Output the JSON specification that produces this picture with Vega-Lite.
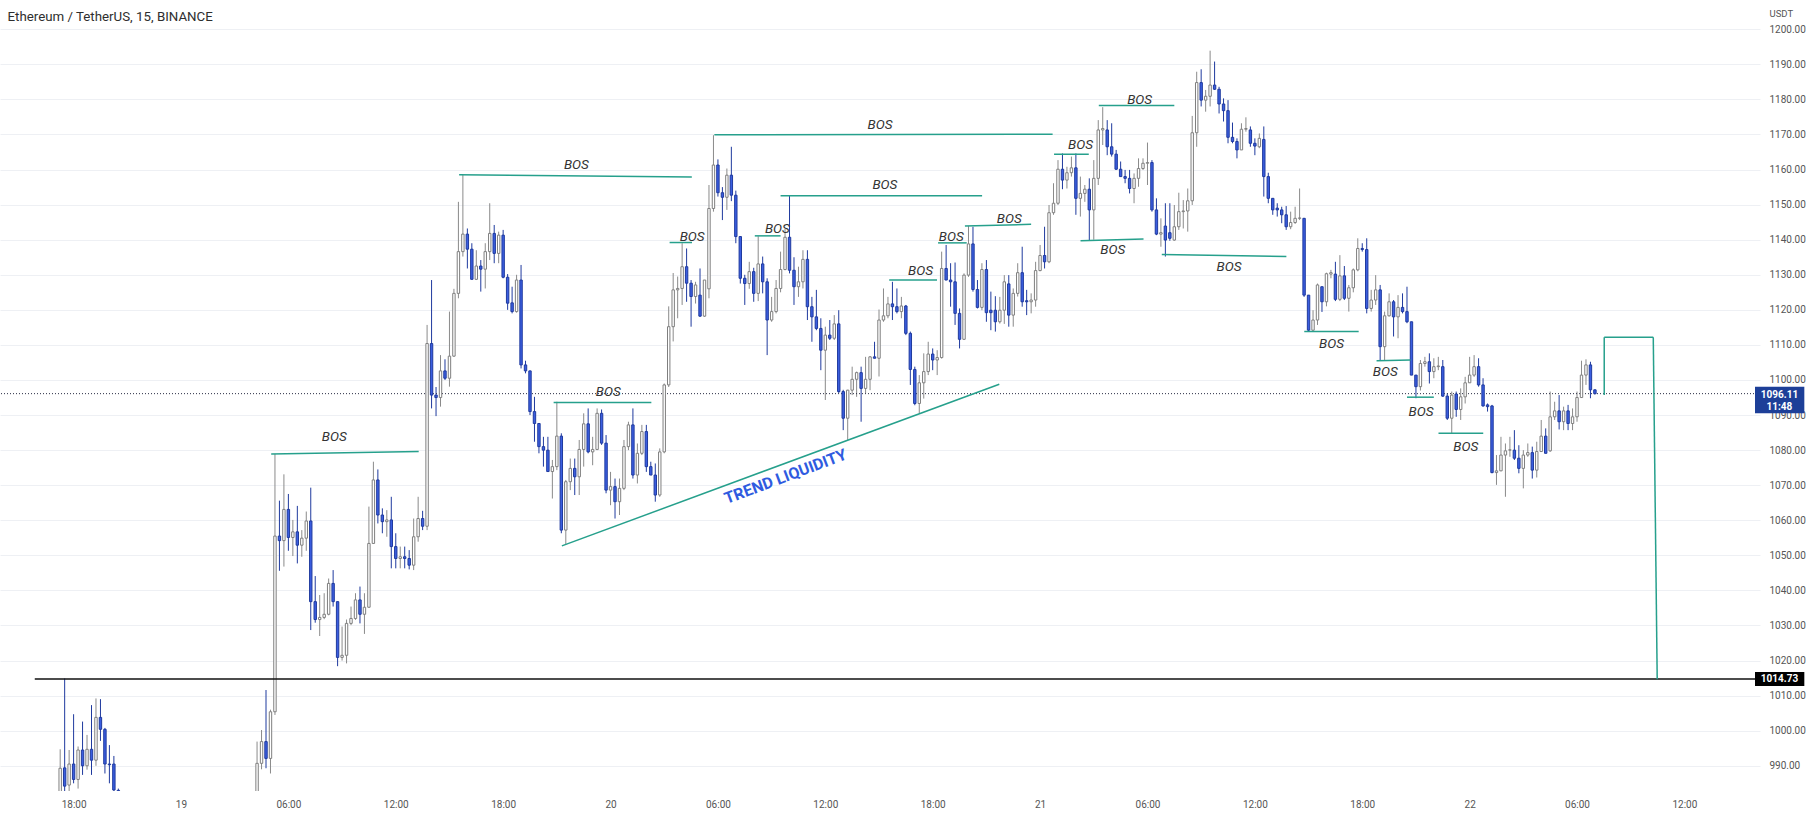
{
"$schema":"https://vega.github.io/schema/vega-lite/v6.json",
"width":1760,"height":791,
"autosize":{"type":"none"},
"padding":{"left":0,"top":0,"right":54,"bottom":27},
"background":"white",
"config":{"view":{"stroke":null},"font":"Roboto"},
"title":{"text":"Ethereum / TetherUS, 15, BINANCE","anchor":"start","offset":-23,"dx":8,"font":"Roboto","fontSize":13.3,"fontWeight":"normal","color":"#2e2e2e"},
"datasets":{
"candles":[
{"t":17.25,"o":980,"h":994.7,"l":975,"c":989.3},
{"t":17.5,"o":989.4,"h":1014.9,"l":980,"c":984.2},
{"t":17.75,"o":984.5,"h":994.5,"l":982,"c":990.5},
{"t":18,"o":990.5,"h":1004.7,"l":985,"c":986.1},
{"t":18.25,"o":986.1,"h":995.5,"l":983.5,"c":994.5},
{"t":18.5,"o":994.5,"h":1002.6,"l":987.4,"c":990},
{"t":18.75,"o":990,"h":998.8,"l":988.9,"c":994.7},
{"t":19,"o":994.7,"h":1007.3,"l":987.4,"c":991.6},
{"t":19.25,"o":991.6,"h":1009.2,"l":990,"c":1003.8},
{"t":19.5,"o":1003.8,"h":1009,"l":997.1,"c":1000.4},
{"t":19.75,"o":1000.4,"h":1000.8,"l":987.8,"c":990.5},
{"t":20,"o":990.5,"h":995.9,"l":985,"c":990.3},
{"t":20.25,"o":990.5,"h":992.8,"l":978,"c":983.1},
{"t":20.5,"o":983,"h":983.5,"l":975,"c":982},
{"t":28.25,"o":980,"h":996.9,"l":978,"c":990.7},
{"t":28.5,"o":990.7,"h":1000.2,"l":989,"c":996.9},
{"t":28.75,"o":996.9,"h":1011.6,"l":989.3,"c":992.1},
{"t":29,"o":992.1,"h":1006,"l":987.8,"c":1005.4},
{"t":29.25,"o":1005.4,"h":1078.9,"l":1004.5,"c":1055.5},
{"t":29.5,"o":1055.5,"h":1065.6,"l":1045.6,"c":1054.2},
{"t":29.75,"o":1054.2,"h":1073.1,"l":1046.8,"c":1063.1},
{"t":30,"o":1063.1,"h":1067.5,"l":1051.3,"c":1055.1},
{"t":30.25,"o":1055.1,"h":1060.1,"l":1049.8,"c":1056.7},
{"t":30.5,"o":1056.7,"h":1064.1,"l":1047.7,"c":1052.9},
{"t":30.75,"o":1052.9,"h":1057.2,"l":1049.6,"c":1054.9},
{"t":31,"o":1054.9,"h":1062.5,"l":1051.3,"c":1059.8},
{"t":31.25,"o":1059.8,"h":1069.3,"l":1028.7,"c":1036.8},
{"t":31.5,"o":1036.8,"h":1044.1,"l":1030.8,"c":1031.7},
{"t":31.75,"o":1031.7,"h":1038.7,"l":1027,"c":1032.3},
{"t":32,"o":1032.3,"h":1039.2,"l":1031.8,"c":1033.2},
{"t":32.25,"o":1033.2,"h":1043.4,"l":1032.9,"c":1042},
{"t":32.5,"o":1042,"h":1045.8,"l":1035.4,"c":1036.8},
{"t":32.75,"o":1036.8,"h":1036.8,"l":1018.4,"c":1020.9},
{"t":33,"o":1020.9,"h":1029.7,"l":1020,"c":1021.5},
{"t":33.25,"o":1021.5,"h":1031.7,"l":1019.2,"c":1030.6},
{"t":33.5,"o":1030.6,"h":1035.4,"l":1030.1,"c":1032},
{"t":33.75,"o":1032,"h":1039.2,"l":1031.6,"c":1037.3},
{"t":34,"o":1037.3,"h":1041.1,"l":1030.6,"c":1033.2},
{"t":34.25,"o":1033.2,"h":1039.2,"l":1027.6,"c":1035.2},
{"t":34.5,"o":1035.2,"h":1063.9,"l":1035.2,"c":1053.4},
{"t":34.75,"o":1053.4,"h":1076.7,"l":1053.4,"c":1071.5},
{"t":35,"o":1071.5,"h":1074.5,"l":1059.1,"c":1061.5},
{"t":35.25,"o":1061.5,"h":1063.4,"l":1056.3,"c":1059.6},
{"t":35.5,"o":1059.6,"h":1062.9,"l":1055.3,"c":1060.1},
{"t":35.75,"o":1060.1,"h":1066.7,"l":1046.3,"c":1052.5},
{"t":36,"o":1052.5,"h":1056.3,"l":1046.3,"c":1049.1},
{"t":36.25,"o":1049.1,"h":1052.5,"l":1046.3,"c":1049.6},
{"t":36.5,"o":1049.6,"h":1052.5,"l":1046.3,"c":1049.1},
{"t":36.75,"o":1049.1,"h":1051.5,"l":1046,"c":1047.2},
{"t":37,"o":1047.2,"h":1060.5,"l":1045.8,"c":1055.3},
{"t":37.25,"o":1055.3,"h":1066.7,"l":1053.9,"c":1060.5},
{"t":37.5,"o":1060.5,"h":1062.7,"l":1057.2,"c":1058.3},
{"t":37.75,"o":1058.3,"h":1115.7,"l":1057.2,"c":1110.4},
{"t":38,"o":1110.4,"h":1128.5,"l":1091.9,"c":1095.7},
{"t":38.25,"o":1095.7,"h":1098,"l":1089.7,"c":1095},
{"t":38.5,"o":1095,"h":1107.1,"l":1092.4,"c":1102.6},
{"t":38.75,"o":1102.6,"h":1105.9,"l":1100,"c":1100.5},
{"t":39,"o":1100.5,"h":1119.5,"l":1098.1,"c":1106.8},
{"t":39.25,"o":1106.8,"h":1126,"l":1106.6,"c":1124.7},
{"t":39.5,"o":1124.7,"h":1150.8,"l":1123.3,"c":1136.6},
{"t":39.75,"o":1136.6,"h":1158.5,"l":1135.2,"c":1141.6},
{"t":40,"o":1141.6,"h":1143.2,"l":1131.8,"c":1137.3},
{"t":40.25,"o":1137.3,"h":1139,"l":1128.7,"c":1128.7},
{"t":40.5,"o":1128.7,"h":1137,"l":1128.5,"c":1132.5},
{"t":40.75,"o":1132.5,"h":1134.2,"l":1125.2,"c":1131.6},
{"t":41,"o":1131.6,"h":1139,"l":1126.1,"c":1136.6},
{"t":41.25,"o":1136.6,"h":1150.4,"l":1134.2,"c":1141.8},
{"t":41.5,"o":1141.8,"h":1144.2,"l":1133.3,"c":1136.1},
{"t":41.75,"o":1136.1,"h":1142.3,"l":1133.3,"c":1141.3},
{"t":42,"o":1141.3,"h":1142.8,"l":1129,"c":1129.3},
{"t":42.25,"o":1129.3,"h":1130.2,"l":1120,"c":1121.9},
{"t":42.5,"o":1122,"h":1126.6,"l":1119,"c":1119.5},
{"t":42.75,"o":1119.5,"h":1130,"l":1119.2,"c":1128.5},
{"t":43,"o":1128.5,"h":1132.8,"l":1103.3,"c":1104.3},
{"t":43.25,"o":1104.3,"h":1105.5,"l":1101.9,"c":1102.6},
{"t":43.5,"o":1102.6,"h":1102.6,"l":1090,"c":1091},
{"t":43.75,"o":1091,"h":1095.2,"l":1082.4,"c":1087.6},
{"t":44,"o":1087.6,"h":1087.6,"l":1079.1,"c":1081},
{"t":44.25,"o":1081,"h":1083.8,"l":1075.3,"c":1080},
{"t":44.5,"o":1080,"h":1083.8,"l":1073.9,"c":1073.9},
{"t":44.75,"o":1073.9,"h":1077.2,"l":1066.2,"c":1075.3},
{"t":45,"o":1075.3,"h":1093.8,"l":1074.3,"c":1084},
{"t":45.25,"o":1084,"h":1084.8,"l":1056.3,"c":1057.2},
{"t":45.5,"o":1057.2,"h":1071.5,"l":1053,"c":1071},
{"t":45.75,"o":1071,"h":1077.6,"l":1068.6,"c":1074.8},
{"t":46,"o":1074.8,"h":1077.6,"l":1067.2,"c":1072.4},
{"t":46.25,"o":1072.4,"h":1082.9,"l":1067.2,"c":1080.2},
{"t":46.5,"o":1080.2,"h":1090.5,"l":1075.3,"c":1087.5},
{"t":46.75,"o":1087.5,"h":1091.9,"l":1079.1,"c":1079.5},
{"t":47,"o":1079.5,"h":1083.8,"l":1075.7,"c":1080.2},
{"t":47.25,"o":1080.2,"h":1091.9,"l":1080,"c":1090.5},
{"t":47.5,"o":1090.5,"h":1091.6,"l":1081.5,"c":1082},
{"t":47.75,"o":1082,"h":1084.3,"l":1067.7,"c":1068.6},
{"t":48,"o":1068.6,"h":1073.8,"l":1064.3,"c":1069.6},
{"t":48.25,"o":1069.6,"h":1071.9,"l":1060.5,"c":1065.3},
{"t":48.5,"o":1065.3,"h":1071.9,"l":1061.5,"c":1069.1},
{"t":48.75,"o":1069.1,"h":1082.9,"l":1068.6,"c":1081},
{"t":49,"o":1081,"h":1088.1,"l":1080,"c":1087.2},
{"t":49.25,"o":1087.2,"h":1091.9,"l":1071.9,"c":1072.9},
{"t":49.5,"o":1072.9,"h":1081.9,"l":1070.5,"c":1079.1},
{"t":49.75,"o":1079.1,"h":1087.2,"l":1078.6,"c":1085.3},
{"t":50,"o":1085.3,"h":1087.2,"l":1073.8,"c":1075.3},
{"t":50.25,"o":1075.3,"h":1076.7,"l":1072.9,"c":1072.9},
{"t":50.5,"o":1072.9,"h":1076.2,"l":1065.3,"c":1067.2},
{"t":50.75,"o":1067.2,"h":1080.5,"l":1066.7,"c":1079.5},
{"t":51,"o":1079.5,"h":1099,"l":1079.1,"c":1098.6},
{"t":51.25,"o":1098.6,"h":1121,"l":1098,"c":1115.2},
{"t":51.5,"o":1115.2,"h":1130.5,"l":1111,"c":1125.7},
{"t":51.75,"o":1125.7,"h":1129.5,"l":1117.6,"c":1126.1},
{"t":52,"o":1126.1,"h":1139,"l":1121.4,"c":1132.3},
{"t":52.25,"o":1132.3,"h":1137.5,"l":1122.3,"c":1127.6},
{"t":52.5,"o":1127.6,"h":1128.5,"l":1115.2,"c":1123.8},
{"t":52.75,"o":1123.8,"h":1128,"l":1121.8,"c":1127.1},
{"t":53,"o":1124.2,"h":1131.8,"l":1118,"c":1118.2},
{"t":53.25,"o":1118.2,"h":1128.5,"l":1118,"c":1128.5},
{"t":53.5,"o":1126,"h":1155.6,"l":1123.3,"c":1148.9},
{"t":53.75,"o":1148.9,"h":1169.8,"l":1148,"c":1161.3},
{"t":54,"o":1161.3,"h":1162.9,"l":1152.3,"c":1153.4},
{"t":54.25,"o":1153.4,"h":1155,"l":1145.6,"c":1152.1},
{"t":54.5,"o":1152.1,"h":1160.3,"l":1148.5,"c":1158.4},
{"t":54.75,"o":1158.4,"h":1166.5,"l":1151,"c":1152.7},
{"t":55,"o":1152.7,"h":1154,"l":1139,"c":1140.9},
{"t":55.25,"o":1140.9,"h":1141,"l":1127.5,"c":1129},
{"t":55.5,"o":1129,"h":1130,"l":1121.4,"c":1127.5},
{"t":55.75,"o":1127.5,"h":1133.7,"l":1126,"c":1130.9},
{"t":56,"o":1130.9,"h":1132,"l":1122.3,"c":1124.7},
{"t":56.25,"o":1124.7,"h":1141,"l":1122.5,"c":1133.1},
{"t":56.5,"o":1133.1,"h":1135.2,"l":1124.7,"c":1128},
{"t":56.75,"o":1128,"h":1129,"l":1107.1,"c":1117.1},
{"t":57,"o":1117.1,"h":1123.7,"l":1116.6,"c":1119.5},
{"t":57.25,"o":1119.5,"h":1128.5,"l":1119,"c":1126.1},
{"t":57.5,"o":1126.1,"h":1136.6,"l":1125,"c":1131.5},
{"t":57.75,"o":1131.5,"h":1143.2,"l":1131.3,"c":1140.7},
{"t":58,"o":1140.7,"h":1152.7,"l":1130.4,"c":1131.3},
{"t":58.25,"o":1131.3,"h":1135,"l":1121.4,"c":1126.6},
{"t":58.5,"o":1126.6,"h":1132.3,"l":1123.7,"c":1128},
{"t":58.75,"o":1128,"h":1137,"l":1126.1,"c":1134.4},
{"t":59,"o":1134.4,"h":1137,"l":1117.1,"c":1120.9},
{"t":59.25,"o":1120.9,"h":1123.7,"l":1110.9,"c":1118},
{"t":59.5,"o":1118,"h":1125.7,"l":1114.2,"c":1114.7},
{"t":59.75,"o":1114.7,"h":1117.6,"l":1102.8,"c":1108.5},
{"t":60,"o":1108.5,"h":1115.2,"l":1094.3,"c":1112.8},
{"t":60.25,"o":1112.8,"h":1117.1,"l":1111.4,"c":1111.9},
{"t":60.5,"o":1111.9,"h":1118.5,"l":1111.4,"c":1116},
{"t":60.75,"o":1116,"h":1119.9,"l":1096.2,"c":1096.7},
{"t":61,"o":1096.7,"h":1097.2,"l":1085.7,"c":1089.1},
{"t":61.25,"o":1089.1,"h":1097.2,"l":1082.9,"c":1097.1},
{"t":61.5,"o":1097.1,"h":1103.8,"l":1095.7,"c":1100.2},
{"t":61.75,"o":1100.2,"h":1102.4,"l":1095.2,"c":1102.1},
{"t":62,"o":1102.1,"h":1103.8,"l":1088.1,"c":1097.6},
{"t":62.25,"o":1097.6,"h":1106.6,"l":1096.2,"c":1100.2},
{"t":62.5,"o":1100.2,"h":1106.8,"l":1097.1,"c":1106.6},
{"t":62.75,"o":1106.6,"h":1110.9,"l":1106.2,"c":1106.2},
{"t":63,"o":1106.2,"h":1120.1,"l":1101,"c":1117.1},
{"t":63.25,"o":1117.1,"h":1126.1,"l":1116.6,"c":1118.3},
{"t":63.5,"o":1118.3,"h":1123.7,"l":1117.6,"c":1121.7},
{"t":63.75,"o":1121.7,"h":1128,"l":1117.1,"c":1120.9},
{"t":64,"o":1120.9,"h":1126.1,"l":1119,"c":1119.5},
{"t":64.25,"o":1119.5,"h":1123.7,"l":1117.6,"c":1121.1},
{"t":64.5,"o":1121.1,"h":1121.4,"l":1112.8,"c":1113.3},
{"t":64.75,"o":1113.3,"h":1113.8,"l":1098.6,"c":1103},
{"t":65,"o":1103,"h":1103.8,"l":1092.8,"c":1093.3},
{"t":65.25,"o":1093.3,"h":1101.4,"l":1090.5,"c":1099.2},
{"t":65.5,"o":1099.2,"h":1107.6,"l":1094.7,"c":1102.4},
{"t":65.75,"o":1102.4,"h":1110.9,"l":1101.4,"c":1107.4},
{"t":66,"o":1107.4,"h":1109,"l":1102.8,"c":1105.7},
{"t":66.25,"o":1105.7,"h":1108.5,"l":1101.4,"c":1106.4},
{"t":66.5,"o":1106.4,"h":1136.6,"l":1106.1,"c":1131.8},
{"t":66.75,"o":1131.8,"h":1138.5,"l":1128.5,"c":1128.5},
{"t":67,"o":1128.5,"h":1133.3,"l":1120.9,"c":1128},
{"t":67.25,"o":1128,"h":1133.5,"l":1115.7,"c":1119},
{"t":67.5,"o":1119,"h":1120.4,"l":1109,"c":1111.6},
{"t":67.75,"o":1111.6,"h":1130.4,"l":1111.4,"c":1129.9},
{"t":68,"o":1129.9,"h":1143.9,"l":1129.4,"c":1138.8},
{"t":68.25,"o":1138.8,"h":1143.7,"l":1125.2,"c":1125.8},
{"t":68.5,"o":1125.8,"h":1128.5,"l":1120.4,"c":1120.7},
{"t":68.75,"o":1120.7,"h":1133.3,"l":1119.9,"c":1131.5},
{"t":69,"o":1131.5,"h":1134.2,"l":1116.6,"c":1119.2},
{"t":69.25,"o":1119.9,"h":1125.2,"l":1114.2,"c":1119.2},
{"t":69.5,"o":1119.9,"h":1123.9,"l":1113.8,"c":1116.6},
{"t":69.75,"o":1116.6,"h":1123.7,"l":1116.1,"c":1119.9},
{"t":70,"o":1119.9,"h":1129.9,"l":1116,"c":1128},
{"t":70.25,"o":1127.4,"h":1129.9,"l":1115.2,"c":1118.5},
{"t":70.5,"o":1118.5,"h":1126.1,"l":1115.2,"c":1124.7},
{"t":70.75,"o":1124.7,"h":1133.3,"l":1123.8,"c":1130.6},
{"t":71,"o":1130.6,"h":1138,"l":1120.9,"c":1122.3},
{"t":71.25,"o":1122.6,"h":1125.7,"l":1118.5,"c":1122.3},
{"t":71.5,"o":1122.3,"h":1124.7,"l":1119,"c":1122.8},
{"t":71.75,"o":1122.8,"h":1133.7,"l":1120.9,"c":1131.2},
{"t":72,"o":1131.2,"h":1138.5,"l":1131,"c":1135.5},
{"t":72.25,"o":1135.5,"h":1143.7,"l":1131.8,"c":1133.7},
{"t":72.5,"o":1133.7,"h":1149.9,"l":1133.3,"c":1147.7},
{"t":72.75,"o":1147.7,"h":1156.1,"l":1147.1,"c":1150.4},
{"t":73,"o":1150.4,"h":1162.7,"l":1149.9,"c":1160.1},
{"t":73.25,"o":1160.1,"h":1164.6,"l":1154.4,"c":1157},
{"t":73.5,"o":1157,"h":1160.8,"l":1154.6,"c":1159.1},
{"t":73.75,"o":1159.1,"h":1163.7,"l":1158,"c":1160.5},
{"t":74,"o":1160.5,"h":1164.6,"l":1147.1,"c":1151.8},
{"t":74.25,"o":1151.8,"h":1158,"l":1146.6,"c":1153.2},
{"t":74.5,"o":1153.2,"h":1155.6,"l":1150.8,"c":1154.4},
{"t":74.75,"o":1154.4,"h":1157.5,"l":1139.9,"c":1148.5},
{"t":75,"o":1148.5,"h":1162.7,"l":1140,"c":1157.5},
{"t":75.25,"o":1157.5,"h":1174.1,"l":1155.6,"c":1171.3},
{"t":75.5,"o":1171.3,"h":1177.8,"l":1167,"c":1171.7},
{"t":75.75,"o":1171.3,"h":1174.1,"l":1164.1,"c":1166.5},
{"t":76,"o":1166.5,"h":1173.2,"l":1163.7,"c":1164.4},
{"t":76.25,"o":1164.4,"h":1165.6,"l":1159.9,"c":1160.1},
{"t":76.5,"o":1160.1,"h":1162.3,"l":1158,"c":1158},
{"t":76.75,"o":1158,"h":1159.9,"l":1156.1,"c":1157.5},
{"t":77,"o":1157.5,"h":1159.9,"l":1153.2,"c":1154.6},
{"t":77.25,"o":1154.6,"h":1158.9,"l":1150.4,"c":1157.5},
{"t":77.5,"o":1157.5,"h":1163.2,"l":1155.1,"c":1160.3},
{"t":77.75,"o":1160.3,"h":1163.2,"l":1159.9,"c":1161.8},
{"t":78,"o":1161.8,"h":1167.7,"l":1155.6,"c":1162},
{"t":78.25,"o":1162,"h":1162.7,"l":1148,"c":1148.5},
{"t":78.5,"o":1148.5,"h":1151.8,"l":1141.3,"c":1141.6},
{"t":78.75,"o":1141.6,"h":1146.1,"l":1138,"c":1142},
{"t":79,"o":1143.9,"h":1150.4,"l":1135.2,"c":1139.9},
{"t":79.25,"o":1142,"h":1150.4,"l":1139.7,"c":1140.4},
{"t":79.5,"o":1139.9,"h":1149.9,"l":1139.7,"c":1143.7},
{"t":79.75,"o":1143.7,"h":1153.4,"l":1142.8,"c":1148},
{"t":80,"o":1148,"h":1151.3,"l":1143.2,"c":1148.2},
{"t":80.25,"o":1148.2,"h":1154.6,"l":1142.3,"c":1151.1},
{"t":80.5,"o":1151.1,"h":1175.3,"l":1149.9,"c":1170.5},
{"t":80.75,"o":1170.5,"h":1187.9,"l":1166.5,"c":1184.8},
{"t":81,"o":1184.8,"h":1188.6,"l":1178,"c":1179.8},
{"t":81.25,"o":1179.8,"h":1182.7,"l":1176.5,"c":1180.9},
{"t":81.5,"o":1180.9,"h":1193.9,"l":1178,"c":1184.1},
{"t":81.75,"o":1184.1,"h":1190.8,"l":1182.7,"c":1182.9},
{"t":82,"o":1182.9,"h":1183.6,"l":1176,"c":1178.7},
{"t":82.25,"o":1178.7,"h":1180.3,"l":1173.7,"c":1176.8},
{"t":82.5,"o":1176.8,"h":1179.8,"l":1167.5,"c":1169.2},
{"t":82.75,"o":1169.2,"h":1173.4,"l":1167.5,"c":1168},
{"t":83,"o":1168,"h":1168.9,"l":1163.2,"c":1165.6},
{"t":83.25,"o":1165.6,"h":1173.2,"l":1165.6,"c":1171.5},
{"t":83.5,"o":1171.5,"h":1174.9,"l":1170.8,"c":1171.7},
{"t":83.75,"o":1171.3,"h":1172.3,"l":1166.5,"c":1167.5},
{"t":84,"o":1167.5,"h":1168.9,"l":1164.1,"c":1166.7},
{"t":84.25,"o":1166.5,"h":1170.3,"l":1166.1,"c":1168.9},
{"t":84.5,"o":1168.6,"h":1172.3,"l":1152.3,"c":1158},
{"t":84.75,"o":1158,"h":1159.1,"l":1150.4,"c":1151.8},
{"t":85,"o":1151.8,"h":1151.8,"l":1147.1,"c":1148.5},
{"t":85.25,"o":1149,"h":1150.4,"l":1146.6,"c":1148.5},
{"t":85.5,"o":1148.5,"h":1149.4,"l":1144.7,"c":1147.1},
{"t":85.75,"o":1147.1,"h":1149.6,"l":1142.8,"c":1143.7},
{"t":86,"o":1143.7,"h":1148,"l":1143,"c":1144.9},
{"t":86.25,"o":1144.9,"h":1149.4,"l":1144.5,"c":1146.1},
{"t":86.5,"o":1146.1,"h":1154.6,"l":1145.6,"c":1146.2},
{"t":86.75,"o":1146.1,"h":1146.2,"l":1123.7,"c":1124.2},
{"t":87,"o":1124.2,"h":1124.2,"l":1113.8,"c":1114.2},
{"t":87.25,"o":1114.2,"h":1119.9,"l":1113.8,"c":1117.1},
{"t":87.5,"o":1117.1,"h":1127.5,"l":1115.7,"c":1127.1},
{"t":87.75,"o":1126.6,"h":1126.6,"l":1119.4,"c":1122.3},
{"t":88,"o":1122.3,"h":1130.6,"l":1121,"c":1130.3},
{"t":88.25,"o":1130.2,"h":1131.4,"l":1129,"c":1130.6},
{"t":88.5,"o":1130.2,"h":1133.7,"l":1122.5,"c":1123},
{"t":88.75,"o":1123,"h":1135.6,"l":1122.5,"c":1129.7},
{"t":89,"o":1129.7,"h":1132.5,"l":1122.8,"c":1123.3},
{"t":89.25,"o":1123.3,"h":1127.1,"l":1119.5,"c":1126.3},
{"t":89.5,"o":1126.3,"h":1131.8,"l":1125,"c":1131.4},
{"t":89.75,"o":1131.4,"h":1140.4,"l":1131,"c":1137.5},
{"t":90,"o":1137.5,"h":1139,"l":1136.6,"c":1137.2},
{"t":90.25,"o":1137.2,"h":1140.4,"l":1119,"c":1120.4},
{"t":90.5,"o":1120.4,"h":1125.7,"l":1119.5,"c":1122.8},
{"t":90.75,"o":1122.8,"h":1129.9,"l":1121.4,"c":1125.7},
{"t":91,"o":1125.7,"h":1127.1,"l":1105.7,"c":1109.5},
{"t":91.25,"o":1109.5,"h":1119.5,"l":1105.7,"c":1118.3},
{"t":91.5,"o":1118.3,"h":1124.7,"l":1118.1,"c":1122.3},
{"t":91.75,"o":1122.3,"h":1122.8,"l":1112.4,"c":1118},
{"t":92,"o":1118,"h":1124.2,"l":1111.9,"c":1120.7},
{"t":92.25,"o":1120.7,"h":1124.7,"l":1119,"c":1119.5},
{"t":92.5,"o":1119.5,"h":1126.6,"l":1116.2,"c":1116.6},
{"t":92.75,"o":1116.6,"h":1116.6,"l":1101.4,"c":1101.4},
{"t":93,"o":1101.4,"h":1101.4,"l":1094.8,"c":1098.1},
{"t":93.25,"o":1098.1,"h":1105.7,"l":1097,"c":1104.7},
{"t":93.5,"o":1104.7,"h":1106.6,"l":1103.8,"c":1105.2},
{"t":93.75,"o":1105.2,"h":1107.6,"l":1099,"c":1102.4},
{"t":94,"o":1102.4,"h":1106.2,"l":1100.5,"c":1103.8},
{"t":94.25,"o":1103.8,"h":1106.6,"l":1102.8,"c":1104},
{"t":94.5,"o":1103.8,"h":1105.7,"l":1095.2,"c":1095.4},
{"t":94.75,"o":1095.4,"h":1096.2,"l":1088.6,"c":1089.1},
{"t":95,"o":1089.1,"h":1096.7,"l":1084.8,"c":1095.7},
{"t":95.25,"o":1096,"h":1096.7,"l":1089.5,"c":1091.6},
{"t":95.5,"o":1091.6,"h":1097.6,"l":1088.6,"c":1095.2},
{"t":95.75,"o":1095.2,"h":1100.9,"l":1093.3,"c":1099.2},
{"t":96,"o":1099.2,"h":1106.6,"l":1099.2,"c":1101.4},
{"t":96.25,"o":1101.4,"h":1107.1,"l":1100.9,"c":1103.8},
{"t":96.5,"o":1103.8,"h":1106.2,"l":1098.1,"c":1098.6},
{"t":96.75,"o":1098.6,"h":1100.5,"l":1092.4,"c":1092.6},
{"t":97,"o":1092.9,"h":1093.3,"l":1091,"c":1092.4},
{"t":97.25,"o":1092.6,"h":1092.9,"l":1073.4,"c":1073.6},
{"t":97.5,"o":1073.6,"h":1078.6,"l":1070.1,"c":1074.1},
{"t":97.75,"o":1074.1,"h":1083.8,"l":1074,"c":1078.6},
{"t":98,"o":1078.6,"h":1081.9,"l":1066.7,"c":1079.8},
{"t":98.25,"o":1080,"h":1083.8,"l":1078.1,"c":1080.1},
{"t":98.5,"o":1080,"h":1085.7,"l":1077.2,"c":1077.7},
{"t":98.75,"o":1077.7,"h":1081.4,"l":1073.4,"c":1074.8},
{"t":99,"o":1074.8,"h":1080,"l":1069.1,"c":1078.6},
{"t":99.25,"o":1078.6,"h":1081.9,"l":1078.1,"c":1079.3},
{"t":99.5,"o":1079.3,"h":1081,"l":1071.9,"c":1074.3},
{"t":99.75,"o":1074.3,"h":1082.4,"l":1072.2,"c":1079.6},
{"t":100,"o":1079.6,"h":1088.6,"l":1079.5,"c":1084},
{"t":100.25,"o":1084,"h":1086.2,"l":1079.1,"c":1079.1},
{"t":100.5,"o":1079.8,"h":1096.7,"l":1079.5,"c":1089.5},
{"t":100.75,"o":1089.5,"h":1093.8,"l":1088.6,"c":1091.2},
{"t":101,"o":1091.2,"h":1095.7,"l":1085.9,"c":1088.1},
{"t":101.25,"o":1088.1,"h":1092.4,"l":1085.7,"c":1091.2},
{"t":101.5,"o":1091.2,"h":1092.9,"l":1085.7,"c":1087.6},
{"t":101.75,"o":1087.6,"h":1091.9,"l":1085.7,"c":1089.5},
{"t":102,"o":1089.5,"h":1096.7,"l":1088.1,"c":1095},
{"t":102.25,"o":1095,"h":1105.5,"l":1095,"c":1101.4},
{"t":102.5,"o":1101.4,"h":1105.9,"l":1098.6,"c":1104.3},
{"t":102.75,"o":1104.3,"h":1105.2,"l":1094.8,"c":1097.2},
{"t":103,"o":1097.2,"h":1097.3,"l":1095.9,"c":1096.1}
],
"segments":[
{"t1":29.04,"p1":1078.9,"t2":37.28,"p2":1079.6},
{"t1":39.54,"p1":1158.5,"t2":52.54,"p2":1157.9},
{"t1":44.82,"p1":1093.6,"t2":50.28,"p2":1093.6},
{"t1":51.3,"p1":1139.2,"t2":52.55,"p2":1139.2},
{"t1":53.8,"p1":1169.9,"t2":72.7,"p2":1170.1},
{"t1":57.5,"p1":1152.5,"t2":68.76,"p2":1152.5},
{"t1":56.06,"p1":1141.1,"t2":57.5,"p2":1141.1},
{"t1":63.57,"p1":1128.5,"t2":66.24,"p2":1128.5},
{"t1":66.3,"p1":1139.1,"t2":67.9,"p2":1139.1},
{"t1":67.8,"p1":1143.9,"t2":71.5,"p2":1144.4},
{"t1":72.78,"p1":1164.4,"t2":74.72,"p2":1164.4},
{"t1":75.28,"p1":1178.3,"t2":79.5,"p2":1178.3},
{"t1":74.26,"p1":1139.7,"t2":77.78,"p2":1140.2},
{"t1":78.8,"p1":1135.8,"t2":85.76,"p2":1135.2},
{"t1":86.76,"p1":1113.8,"t2":89.8,"p2":1113.8},
{"t1":90.8,"p1":1105.5,"t2":92.7,"p2":1105.7},
{"t1":92.5,"p1":1095.1,"t2":94.0,"p2":1095.1},
{"t1":94.26,"p1":1084.8,"t2":96.76,"p2":1084.8},
{"t1":45.28,"p1":1052.7,"t2":69.72,"p2":1098.8},
{"t1":103.52,"p1":1095.7,"t2":103.52,"p2":1112.2},
{"t1":103.52,"p1":1112.2,"t2":106.26,"p2":1112.2},
{"t1":106.26,"p1":1112.2,"t2":106.48,"p2":1014.7}
],
"labels":[
{"t":32.56,"p":1083.8,"text":"BOS"},
{"t":46.09,"p":1161.3,"text":"BOS"},
{"t":47.87,"p":1096.7,"text":"BOS"},
{"t":52.56,"p":1140.9,"text":"BOS"},
{"t":63.06,"p":1172.7,"text":"BOS"},
{"t":63.33,"p":1155.6,"text":"BOS"},
{"t":57.32,"p":1143.0,"text":"BOS"},
{"t":65.32,"p":1131.2,"text":"BOS"},
{"t":67.04,"p":1140.9,"text":"BOS"},
{"t":70.28,"p":1146.0,"text":"BOS"},
{"t":74.26,"p":1167.0,"text":"BOS"},
{"t":77.56,"p":1179.8,"text":"BOS"},
{"t":76.06,"p":1137.1,"text":"BOS"},
{"t":82.56,"p":1132.1,"text":"BOS"},
{"t":88.28,"p":1110.3,"text":"BOS"},
{"t":91.29,"p":1102.2,"text":"BOS"},
{"t":93.28,"p":1090.8,"text":"BOS"},
{"t":95.78,"p":1081.0,"text":"BOS"}
]
},
"layer":[
{
"data":{"name":"candles"},
"mark":{"type":"rule","clip":true,"strokeWidth":1},
"encoding":{
"x":{"field":"t","type":"quantitative","title":null,"scale":{"domain":[14.1667,111.944],"nice":false,"zero":false},
"axis":{"title":null,"orient":"bottom","values":[18,24,30,36,42,48,54,60,66,72,78,84,90,96,102,108],"tickCount":60,"labelExpr":"datum.value % 24 == 0 ? '' + (18 + datum.value / 24) : (datum.value % 24 == 6 ? '06:00' : (datum.value % 24 == 12 ? '12:00' : '18:00'))","ticks":false,"domain":false,"grid":false,"labelPadding":8,"labelFontSize":10,"labelColor":"#555555","labelFont":"Roboto","labelFlush":false,"labelOverlap":false}},
"y":{"field":"l","type":"quantitative","title":"USDT","scale":{"domain":[982.81,1208.35],"nice":false,"zero":false},
"axis":{"title":"USDT","orient":"right","values":[990,1000,1010,1020,1030,1040,1050,1060,1070,1080,1090,1100,1110,1120,1130,1140,1150,1160,1170,1180,1190,1200],"tickCount":60,"format":".2f","ticks":false,"domain":false,"grid":true,"gridColor":"#eef0f4","gridWidth":1,"labelAlign":"left","labelPadding":9,"labelFontSize":10,"labelColor":"#555555","labelFont":"Roboto","labelOverlap":false,"labelFlush":false,"titleAngle":0,"titleX":9,"titleY":13,"titleAlign":"left","titleBaseline":"middle","titleFontSize":9.5,"titleFontWeight":"normal","titleColor":"#555555","titleFont":"Roboto"}},
"y2":{"field":"h"},
"color":{"condition":{"test":"datum.c < datum.o","value":"#1f3a9e"},"value":"#8a8a8a"}
}
},
{
"data":{"values":[{"p":1096.11}]},
"mark":{"type":"rule","strokeDash":[1,2],"color":"#2a2e45","strokeWidth":1},
"encoding":{"y":{"field":"p","type":"quantitative","title":"USDT"}}
},
{
"data":{"name":"candles"},
"mark":{"type":"bar","clip":true,"size":2.4,"strokeWidth":1},
"encoding":{
"x":{"field":"t","type":"quantitative","title":null},
"y":{"field":"o","type":"quantitative","title":"USDT"},
"y2":{"field":"c"},
"fill":{"condition":{"test":"datum.c < datum.o","value":"#3b5ee0"},"value":"#ffffff"},
"stroke":{"condition":{"test":"datum.c < datum.o","value":"#1f3a9e"},"value":"#7f7f7f"}
}
},
{
"data":{"values":[{"t1":15.83,"t2":111.944,"p":1014.73}]},
"mark":{"type":"rule","clip":true,"color":"#111111","strokeWidth":1.5},
"encoding":{"x":{"field":"t1","type":"quantitative","title":null},"x2":{"field":"t2"},"y":{"field":"p","type":"quantitative","title":"USDT"}}
},
{
"data":{"name":"segments"},
"mark":{"type":"rule","clip":true,"color":"#26a08c","strokeWidth":1.5},
"encoding":{"x":{"field":"t1","type":"quantitative","title":null},"x2":{"field":"t2"},"y":{"field":"p1","type":"quantitative","title":"USDT"},"y2":{"field":"p2"}}
},
{
"data":{"name":"labels"},
"mark":{"type":"text","font":"Roboto","fontSize":13.5,"fontStyle":"italic","color":"#333333","align":"center","baseline":"middle"},
"encoding":{"x":{"field":"t","type":"quantitative","title":null},"y":{"field":"p","type":"quantitative","title":"USDT"},"text":{"field":"text"}}
},
{
"data":{"values":[{"t":57.78,"p":1072.4,"text":"TREND LIQUIDITY"}]},
"mark":{"type":"text","font":"Roboto","fontSize":16,"fontWeight":"bold","color":"#2f5be0","angle":339.5,"align":"center","baseline":"middle"},
"encoding":{"x":{"field":"t","type":"quantitative","title":null},"y":{"field":"p","type":"quantitative","title":"USDT"},"text":{"field":"text"}}
},
{
"data":{"values":[{"x1":111.944,"x2":114.7,"y1":1098.1,"y2":1090.5}]},
"mark":{"type":"rect","color":"#1d3f98"},
"encoding":{"x":{"field":"x1","type":"quantitative","title":null},"x2":{"field":"x2"},"y":{"field":"y1","type":"quantitative","title":"USDT"},"y2":{"field":"y2"}}
},
{
"data":{"values":[{"x1":111.944,"x2":114.7,"y1":1016.74,"y2":1012.75}]},
"mark":{"type":"rect","color":"#000000"},
"encoding":{"x":{"field":"x1","type":"quantitative","title":null},"x2":{"field":"x2"},"y":{"field":"y1","type":"quantitative","title":"USDT"},"y2":{"field":"y2"}}
},
{
"data":{"values":[{"t":113.31,"p":1095.72,"text":"1096.11"},{"t":113.31,"p":1092.3,"text":"11:48"},{"t":113.31,"p":1014.73,"text":"1014.73"}]},
"mark":{"type":"text","font":"Roboto","fontSize":10,"fontWeight":"bold","color":"#ffffff","align":"center","baseline":"middle"},
"encoding":{"x":{"field":"t","type":"quantitative","title":null},"y":{"field":"p","type":"quantitative","title":"USDT"},"text":{"field":"text"}}
}
]
}
